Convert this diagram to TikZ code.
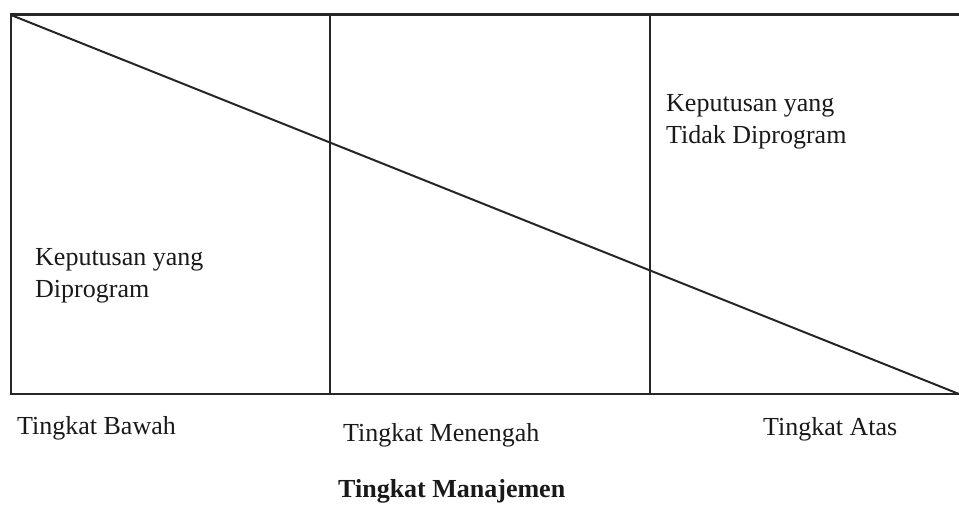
\documentclass[tikz,border=0pt]{standalone}
\usepackage{fontspec}
\setmainfont{Liberation Serif}
\begin{document}
\begin{tikzpicture}[x=1pt,y=-1pt,
  lbl/.style={anchor=base west,inner sep=0pt,font=\fontsize{26}{30}\selectfont,text=black!90},
  rule/.style={line width=2pt,draw=black!85}]
\useasboundingbox (0,0) rectangle (959,505);
\coordinate (tl) at (11,15);
\coordinate (tr) at (959,15);
\coordinate (bl) at (11,394);
\coordinate (br) at (959,394);
\coordinate (m1t) at (330,15);
\coordinate (m1b) at (330,394);
\coordinate (m2t) at (650,15);
\coordinate (m2b) at (650,394);
\draw[line width=3pt,draw=black!85] (10,15) -- (tr);
\draw[rule] (tl) -- (bl) -- (br);
\draw[rule] (m1t) -- (m1b);
\draw[rule] (m2t) -- (m2b);
\draw[rule] (tl) -- (br);
\node[lbl] (d1) at (35,266) {Keputusan yang};
\node[lbl] (d2) at (35,298) {Diprogram};
\node[lbl] (n1) at (666,112) {Keputusan yang};
\node[lbl] (n2) at (666,144) {Tidak Diprogram};
\node[lbl] (lb) at (17,434) {Tingkat Bawah};
\node[lbl] (lm) at (343,441) {Tingkat Menengah};
\node[lbl] (la) at (763,435) {Tingkat Atas};
\node[lbl,font=\fontsize{26}{30}\selectfont\bfseries] (lt) at (338,497) {Tingkat Manajemen};
\end{tikzpicture}
\end{document}
